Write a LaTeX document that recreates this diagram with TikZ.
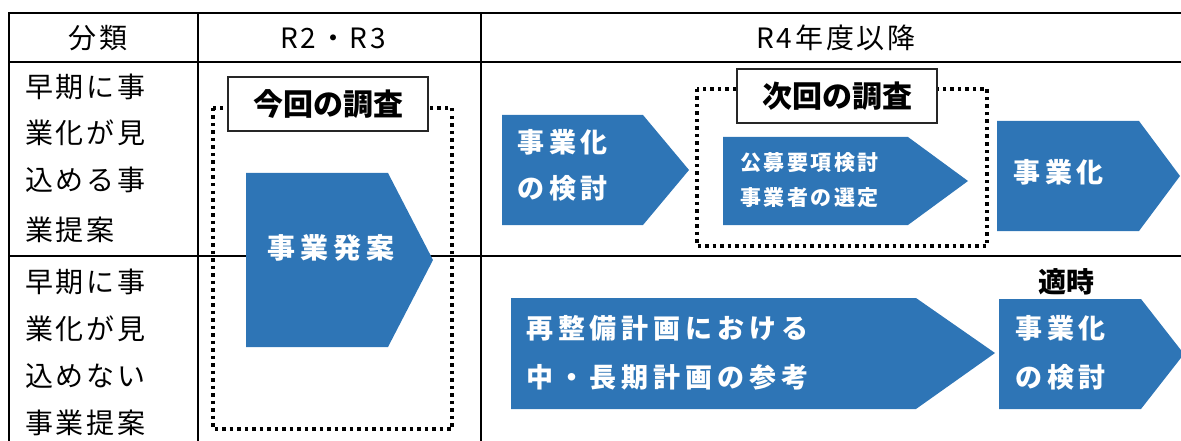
\documentclass[tikz,border=0pt]{standalone}
\usepackage{fontspec}
\setmainfont{Noto Sans CJK JP}
\newfontfamily\cellfont{Noto Sans CJK JP}[LetterSpace=10]
\newfontfamily\arrowfont{Noto Sans CJK JP}[LetterSpace=18]
\newfontfamily\stepfont{Noto Sans CJK JP}[LetterSpace=12]
\usepackage{tikz}
\usetikzlibrary{scopes,positioning}
\definecolor{flowblue}{RGB}{46,117,182}

\begin{document}
\begin{tikzpicture}[
    x=1pt,y=-1pt,
    tableline/.style={draw=black,line width=2.7pt},
    survey/.style={draw=black,line width=3.5pt,dash pattern=on 3.5pt off 4pt},
    surveytag/.style={rectangle,draw=black!85,fill=white,line width=1.4pt,minimum width=200pt,minimum height=54pt,inner sep=0pt,font=\fontsize{30}{30}\selectfont\bfseries},
    chevron/.style={fill=flowblue},
    cell/.style={inner sep=0pt,font=\cellfont\fontsize{28}{28}\selectfont},
    arrowtext/.style={inner sep=0pt,text=white,anchor=west,font=\arrowfont\fontsize{27}{27}\selectfont\bfseries},
    steptext/.style={inner sep=0pt,text=white,anchor=west,font=\stepfont\fontsize{21}{21}\selectfont\bfseries},
]
    \useasboundingbox (0,0) rectangle (1181,441);

    % table
    \draw[tableline] (1195,13) -- (9,13) -- (9,450);
    \draw[tableline] (9,62) -- (1195,62);
    \draw[tableline] (9,256) -- (1195,256);
    \draw[tableline] (198,13) -- (198,450);
    \draw[tableline] (481,13) -- (481,450);

    % header
    \node[cell] (hcat) at (98,38) {分類};
    \node[cell] (hnow) at (333,38) {R2・R3};
    \node[cell] (hnext) at (836,38) {R4年度以降};

    % categories
    \node[cell,anchor=west] (ea1) at (25,87) {早期に事};
    \node[cell,anchor=west] (ea2) at (25,133) {業化が見};
    \node[cell,anchor=west] (ea3) at (25,180) {込める事};
    \node[cell,anchor=west] (ea4) at (25,230) {業提案};
    \node[cell,anchor=west] (la1) at (25,282) {早期に事};
    \node[cell,anchor=west] (la2) at (25,329) {業化が見};
    \node[cell,anchor=west] (la3) at (25,376) {込めない};
    \node[cell,anchor=west] (la4) at (25,423) {事業提案};

    % this survey
    \draw[survey] (213,108) rectangle (452,429);
    \fill[chevron] (246,173) -- (388,173) -- (433,260) -- (388,347) -- (246,347) -- cycle;
    \node[arrowtext,font=\arrowfont\fontsize{28}{28}\selectfont\bfseries] (propose) at (267,248) {事業発案};
    \node[surveytag] (now) at (328,104) {今回の調査};

    % next survey
    \draw[survey] (697,89) rectangle (987,246);
    {[chevron]
        \fill (502,115) -- (643,115) -- (689,170) -- (643,225) -- (502,225) -- cycle;
        \fill (723,137) -- (908,137) -- (968,181) -- (908,225) -- (723,225) -- cycle;
        \fill (997,121) -- (1139,121) -- (1180,176) -- (1139,231) -- (997,231) -- cycle;
        \fill (511,298) -- (916,298) -- (995,353) -- (916,409) -- (511,409) -- cycle;
        \fill (999,299) -- (1141,299) -- (1184,354) -- (1141,409) -- (999,409) -- cycle;
    }
    \node[surveytag] (next) at (837,96) {次回の調査};

    \node[arrowtext] (study1) at (517,142) {事業化};
    \node[arrowtext] (study2) at (517,188) {の検討};
    \node[steptext] (rfp) at (740,163) {公募要項検討};
    \node[steptext] (select) at (740,198) {事業者の選定};
    \node[arrowtext] (launch) at (1013,172) {事業化};

    \node[arrowtext] (plan1) at (526,328) {再整備計画における};
    \node[arrowtext] (plan2) at (526,377) {中・長期計画の参考};
    \node[arrowtext] (later1) at (1015,328) {事業化};
    \node[arrowtext] (later2) at (1015,377) {の検討};
    \node[inner sep=0pt,font=\fontsize{28}{28}\selectfont\bfseries] (timely) at (1066,282) {適時};

\end{tikzpicture}
\end{document}
